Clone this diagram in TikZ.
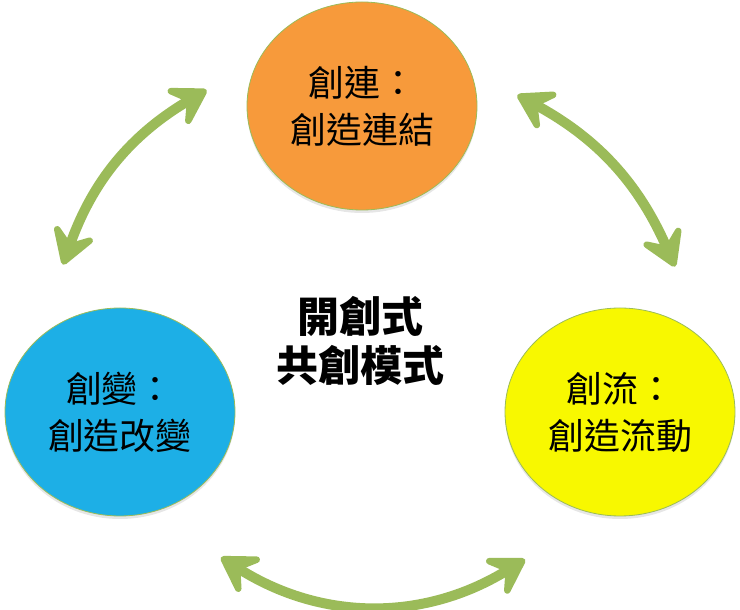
\documentclass[tikz,border=0pt]{standalone}
\usepackage{fontspec}
\newfontfamily\cjk{Noto Sans CJK TC}
\usetikzlibrary{arrows.meta,shapes.geometric,shadows}

\definecolor{lianorange}{HTML}{F79A3B}
\definecolor{bianblue}{HTML}{1DAFE6}
\definecolor{liuyellow}{HTML}{F8F800}
\definecolor{arrowgreen}{HTML}{9BBB59}

\tikzset{
  greentip/.tip={Stealth[length=46pt,width=56pt,inset=20pt,round]},
  bubble/.style={ellipse, draw=arrowgreen, line width=0.8pt,
    minimum width=230pt, minimum height=208pt, align=center,
    font=\cjk\fontsize{36}{47}\selectfont,
    drop shadow={opacity=0.2, shadow xshift=0pt, shadow yshift=-3pt}},
  twoway/.style={draw=arrowgreen, line width=10pt, greentip-greentip}
}

\begin{document}
\begin{tikzpicture}[x=1pt, y=1pt]
		%%%%% START %%%%%
		\useasboundingbox (0, 0) rectangle (740, 610);
		
		\node[bubble, fill=lianorange] (lian) at (362, 504) {創連：\\創造連結};
		\node[bubble, fill=bianblue] (bian) at (120, 198) {創變：\\創造改變};
		\node[bubble, fill=liuyellow] (liu) at (620, 198) {創流：\\創造流動};
		
		\node[align=center, font=\cjk\bfseries\fontsize{42}{49}\selectfont] (mode) at (360, 269) {開創式\\共創模式};
		
		\draw[twoway] ([shift={(-57, 43)}]bian.north) to[bend left=20] ([shift={(-40, 16)}]lian.west);
		\draw[twoway] ([shift={(40, 11)}]lian.east) to[bend left=19] ([shift={(55, 41)}]liu.north);
		\draw[twoway] ([shift={(101, -41)}]bian.south) to[bend right=32] ([shift={(-95, -43)}]liu.south);
		%%%%% END %%%%%
	\end{tikzpicture}
\end{document}
